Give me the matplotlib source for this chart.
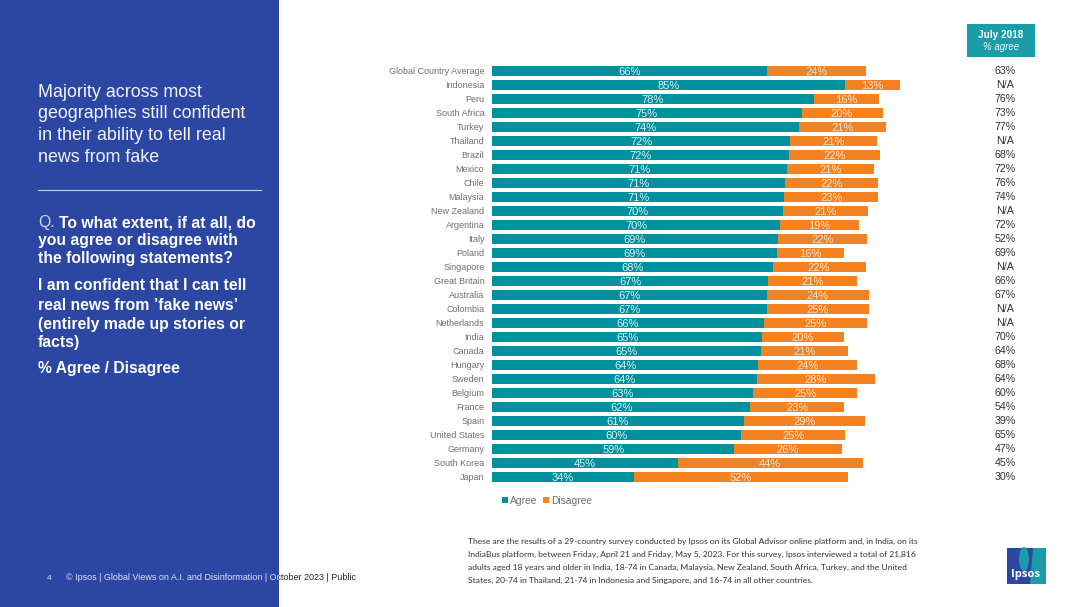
import matplotlib
matplotlib.use("Agg")
import matplotlib.pyplot as plt
from matplotlib.patches import Rectangle, Ellipse, Polygon
from matplotlib.transforms import blended_transform_factory, Bbox, TransformedBbox

plt.rcParams['font.family'] = ['Liberation Sans', 'DejaVu Sans']

countries = ["Global Country Average", "Indonesia", "Peru", "South Africa", "Turkey", "Thailand", "Brazil",
             "Mexico", "Chile", "Malaysia", "New Zealand", "Argentina", "Italy", "Poland", "Singapore",
             "Great Britain", "Australia", "Colombia", "Netherlands", "India", "Canada", "Hungary", "Sweden",
             "Belgium", "France", "Spain", "United States", "Germany", "South Korea", "Japan"]
# bar lengths as measured on the picture (unrounded estimates)
agree = [66.2, 85.0, 77.6, 74.6, 74.0, 71.9, 71.6, 71.1, 70.6, 70.4, 70.0, 69.5, 68.9, 68.7, 67.6, 66.6, 66.3, 66.2,
         65.5, 65.1, 64.8, 64.2, 63.9, 63.0, 62.2, 60.7, 60.1, 58.4, 44.8, 34.2]
disagree = [23.8, 13.4, 15.7, 19.5, 20.9, 20.9, 21.9, 20.9, 22.3, 22.7, 20.6, 18.9, 21.5, 16.0, 22.4, 21.4, 24.5, 24.6,
            24.9, 19.6, 20.9, 23.7, 28.3, 24.9, 22.7, 29.2, 25.0, 25.9, 44.5, 51.6]
# printed labels
agree_labels = [66, 85, 78, 75, 74, 72, 72, 71, 71, 71, 70, 70, 69, 69, 68, 67, 67, 67, 66, 65, 65, 64, 64, 63, 62,
                61, 60, 59, 45, 34]
disagree_labels = [24, 13, 16, 20, 21, 21, 22, 21, 22, 23, 21, 19, 22, 16, 22, 21, 24, 25, 25, 20, 21, 24, 28, 25, 23,
                   29, 25, 26, 44, 52]
july_2018 = ["63%", "N/A", "76%", "73%", "77%", "N/A", "68%", "72%", "76%", "74%", "N/A", "72%", "52%", "69%",
             "N/A", "66%", "67%", "N/A", "N/A", "70%", "64%", "68%", "64%", "60%", "54%", "39%", "65%", "47%",
             "45%", "30%"]

W, H = 1080, 607
TEAL, ORANGE, BLUE = "#00919F", "#F58220", "#2B47A3"
BOX_TEAL = "#1A9DA9"
GREY = "#6F6F6F"

fig = plt.figure(figsize=(W / 100, H / 100), dpi=100, facecolor="white")
def fx(x): return x / W
def fy(y): return 1 - y / H

fig.patches.append(Rectangle((0, 0), fx(279), 1, transform=fig.transFigure, color=BLUE, lw=0, zorder=0))

# chart axes: 0 at x=492, 4.15 px per percentage point
left, right = 492, 492 + 4.15 * 100
top, bottom = 64, 484
ax = fig.add_axes([fx(left), fy(bottom), fx(right - left), (bottom - top) / H])
ax.set_xlim(0, 100)
ax.set_ylim(len(countries) - 0.5, -0.5)
ax.patch.set_alpha(0)
for s in ax.spines.values():
    s.set_visible(False)
ax.set_xticks([])
ax.set_yticks(range(len(countries)))
ax.set_yticklabels(countries, fontsize=6.5, color=GREY)
ax.tick_params(axis="y", length=0, pad=5.5)

ypos = list(range(len(countries)))
b1 = ax.barh(ypos, agree, height=0.72, color=TEAL, label="Agree")
b2 = ax.barh(ypos, disagree, left=agree, height=0.72, color=ORANGE, label="Disagree")
t1 = ax.bar_label(b1, labels=[f"{v}%" for v in agree_labels], label_type="center", color="#DDF0F2", fontsize=8)
t2 = ax.bar_label(b2, labels=[f"{v}%" for v in disagree_labels], label_type="center", color="#FBE6D3", fontsize=8)
for t in list(t1) + list(t2):
    t.xyann = (0, -1.0)

# right-hand comparison column
tr = blended_transform_factory(fig.transFigure, ax.transData)
for i, v in enumerate(july_2018):
    ax.text(fx(1005), i + 0.02, v, transform=tr, ha="center", va="center", fontsize=7.7, color="#333333")

fig.patches.append(Rectangle((fx(967), fy(57)), 68 / W, 33 / H, transform=fig.transFigure, color=BOX_TEAL, lw=0))
fig.text(fx(1001), fy(35), "July 2018", ha="center", va="center", fontsize=7.2, color="white", fontweight="bold")
fig.text(fx(1001), fy(47.5), "% agree", ha="center", va="center", fontsize=7, color="#E8F5F6", style="italic")

ax.legend(loc="upper left", bbox_to_anchor=(fx(502), fy(495.5)), bbox_transform=fig.transFigure, ncol=2, frameon=False,
          fontsize=7.4, labelcolor=GREY, handlelength=0.6, handleheight=0.6, handletextpad=0.2,
          columnspacing=0.55, borderpad=0, borderaxespad=0)

# left panel text
for y, s in zip([92.5, 114, 135.5, 157],
                ["Majority across most", "geographies still confident", "in their ability to tell real", "news from fake"]):
    fig.text(fx(38), fy(y), s, color="#F2F4FA", fontsize=12.9, va="center")
fig.lines.append(plt.Line2D([fx(38), fx(261)], [fy(190)] * 2, transform=fig.transFigure, color="#C8D0EA", lw=0.8))

fig.text(fx(38), fy(223), "Q.", color="#D0D6EC", fontsize=11.3, va="center")
fig.text(fx(59), fy(223), "To what extent, if at all, do", color="white", fontsize=11.3, va="center", fontweight="bold")
bold_lines = [(241, "you agree or disagree with"), (259, "the following statements?"),
              (286, "I am confident that I can tell"), (305, "real news from \u2019fake news\u2019"),
              (324, "(entirely made up stories or"), (343, "facts)"), (368, "% Agree / Disagree")]
for y, s in bold_lines:
    fig.text(fx(38), fy(y), s, color="white", fontsize=11.3, va="center", fontweight="bold")

# footer: one string, light over the panel and dark beyond it
footer = "\u00a9 Ipsos | Global Views on A.I. and Disinformation | October 2023 | Public"
fig.text(fx(49), fy(578), "4", color="#DDE2F2", fontsize=6, ha="center", va="center")
panel_box = TransformedBbox(Bbox([[0, 0], [fx(279), 1]]), fig.transFigure)
rest_box = TransformedBbox(Bbox([[fx(279), 0], [1, 1]]), fig.transFigure)
for color, box in (("#DDE2F2", panel_box), ("#222222", rest_box)):
    t = fig.text(fx(66), fy(578), footer, color=color, fontsize=6.46, va="center")
    t.set_clip_box(box)
    t.set_clip_on(True)

# methodology note
note = ["These are the results of a 29-country survey conducted by Ipsos on its Global Advisor online platform and, in India, on its",
        "IndiaBus platform, between Friday, April 21 and Friday, May 5, 2023. For this survey, Ipsos interviewed a total of 21,816",
        "adults aged 18 years and older in India, 18-74 in Canada, Malaysia, New Zealand, South Africa, Turkey, and the United",
        "States, 20-74 in Thailand, 21-74 in Indonesia and Singapore, and 16-74 in all other countries."]
for y, s in zip([541, 554, 567, 580], note):
    fig.text(fx(468), fy(y), s, color="#333333", fontsize=6.11, va="center", family=["Lato", "DejaVu Sans"])

# logo
fig.patches.append(Rectangle((fx(1007), fy(584)), 39 / W, 36 / H, transform=fig.transFigure, color=BLUE, lw=0))
fig.patches.append(Polygon([(fx(1030), fy(584)), (fx(1046), fy(584)), (fx(1046), fy(548)), (fx(1033), fy(548))],
                           transform=fig.transFigure, color=BOX_TEAL, lw=0))
fig.patches.append(Ellipse((fx(1024), fy(559)), 10 / W, 24 / H, transform=fig.transFigure, color=BOX_TEAL, lw=0))
fig.text(fx(1026), fy(575), "Ipsos", color="white", fontsize=8.2, ha="center", va="center", fontweight="bold",
         family=["Open Sans", "DejaVu Sans"])

fig.savefig("out.png", dpi=100)
